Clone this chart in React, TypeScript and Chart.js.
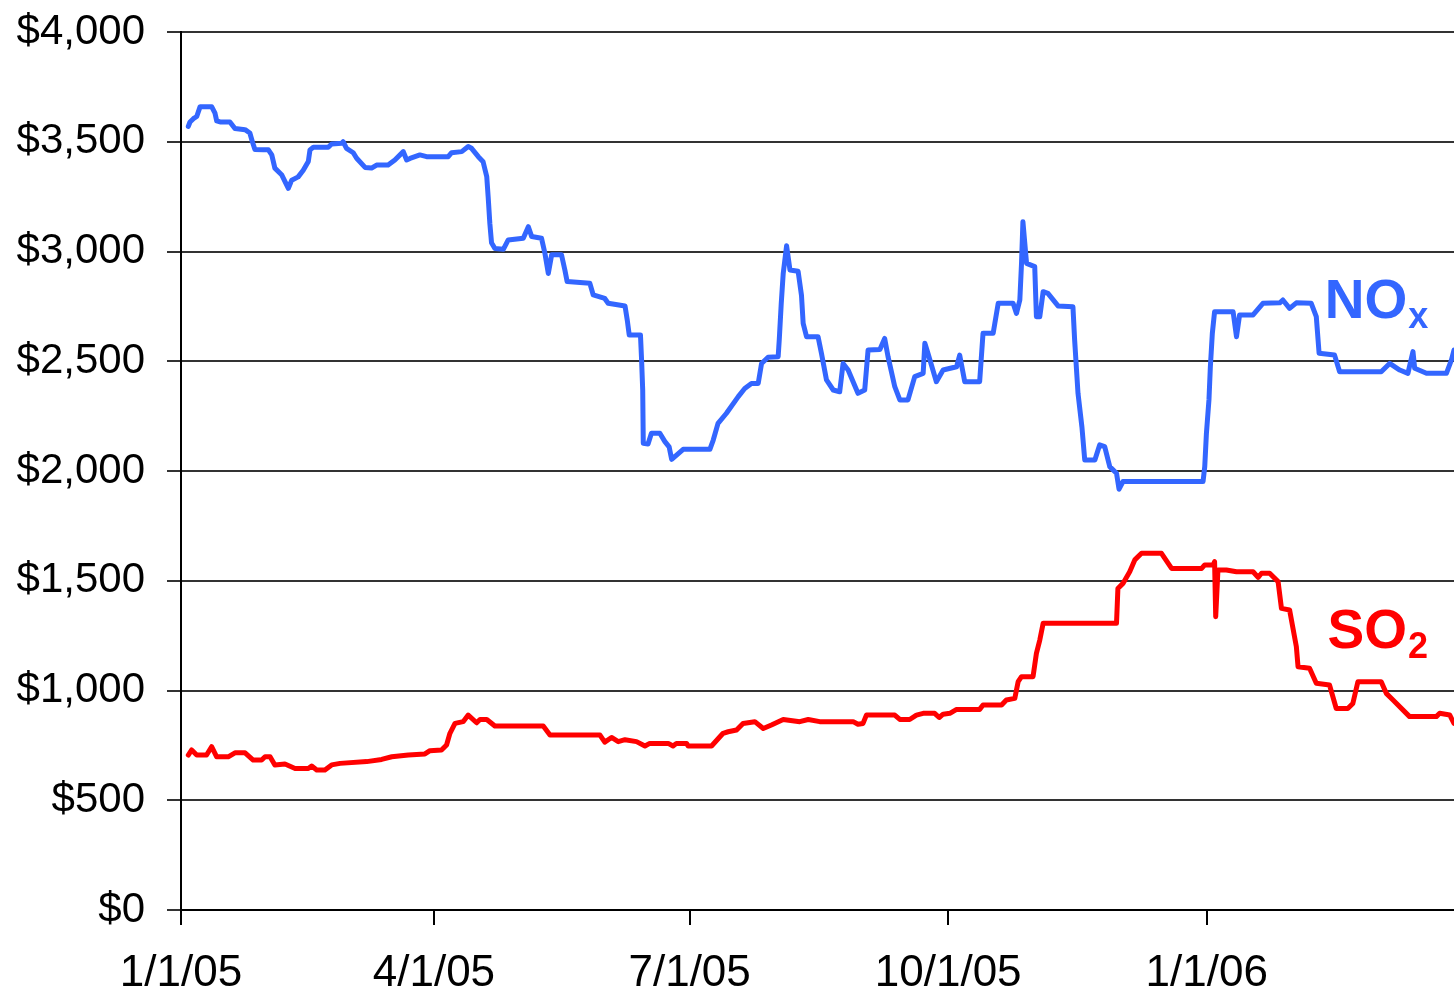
import React, { useEffect, useRef } from "react";
import { Chart, registerables } from "chart.js";

Chart.register(...registerables);

// x values are days since 1/1/05
const tickDays = [0, 90, 181, 273, 365];
const tickLabels = ["1/1/05", "4/1/05", "7/1/05", "10/1/05", "1/1/06"];
const yTickStep = 500;
const yMax = 4000;
const xMax = 453;

const noxDays = [
  2.6, 3.2, 4.4, 5.6, 6.8, 9.1, 10.9, 12.1, 12.7, 13.9, 17.4, 19.2, 22.8, 24.5, 25.4, 26.3,
  29.3, 31.1, 32.3, 33.4, 35.8, 38.2, 39.4, 41.7, 43.5, 45.3, 45.9, 47.1, 52.4, 53.6, 57.2,
  57.7, 58.9, 61.3, 62.5, 65.5, 67.8, 69.6, 73.7, 76.1, 79.1, 80.3, 81.5, 85.0, 87.4, 95.1,
  96.3, 99.9, 102.2, 103.4, 105.8, 107.5, 108.8, 109.3, 109.9, 110.5, 111.7, 114.7, 116.4,
  121.8, 123.6, 124.8, 128.3, 129.5, 130.7, 131.9, 135.4, 136.6, 137.4, 145.5, 146.7, 150.8,
  152.0, 158.0, 158.8, 159.5, 163.5, 163.9, 164.3, 164.5, 166.2, 167.4, 170.4, 172.2, 173.7,
  174.6, 178.7, 188.2, 189.4, 191.1, 194.1, 198.3, 200.6, 203.0, 205.4, 206.6, 208.9, 212.5,
  212.9, 213.6, 214.3, 215.5, 216.7, 219.6, 220.8, 221.4, 222.6, 226.7, 227.9, 229.7, 232.1,
  234.4, 235.6, 237.4, 240.9, 243.3, 244.5, 248.7, 250.4, 251.6, 254.0, 255.8, 258.7, 261.1,
  264.1, 264.7, 265.8, 268.8, 271.2, 276.0, 277.1, 278.9, 284.2, 285.4, 289.0, 290.8, 296.1,
  297.3, 298.5, 299.1, 299.6, 300.9, 303.8, 304.4, 305.6, 306.8, 308.5, 312.1, 317.4, 318.0,
  319.2, 320.6, 321.6, 325.2, 326.9, 328.7, 330.5, 332.9, 333.8, 335.2, 363.7, 364.3, 364.9,
  365.8, 366.3, 367.0, 367.8, 374.4, 375.6, 376.7, 381.5, 385.0, 391.0, 392.1, 394.5, 396.9,
  402.2, 404.0, 405.0, 410.5, 412.3, 427.1, 430.1, 433.7, 436.6, 438.4, 439.0, 443.2, 450.3,
  452.1, 453.0,
];
const noxValues = [
  3570, 3590, 3605, 3615, 3660, 3660, 3660, 3630, 3595, 3590, 3590, 3560, 3555, 3540, 3500, 3465,
  3463, 3463, 3440, 3380, 3350, 3288, 3325, 3340, 3370, 3410, 3463, 3475, 3475, 3490, 3493,
  3500, 3470, 3450, 3425, 3383, 3380, 3394, 3394, 3417, 3455, 3417, 3424, 3440, 3432, 3432,
  3450, 3455, 3478, 3470, 3432, 3409, 3341, 3250, 3128, 3040, 3014, 3010, 3052,
  3060, 3113, 3068, 3060, 2992, 2900, 2985, 2985, 2916, 2863, 2855, 2802, 2786,
  2764, 2752, 2688, 2620, 2620, 2506, 2369, 2126, 2123, 2172, 2172, 2134, 2110,
  2053, 2099, 2099, 2141, 2217, 2263, 2339, 2376, 2399, 2399, 2490, 2518, 2521,
  2600, 2764, 2900, 3026, 2916, 2910, 2800, 2673, 2612, 2612, 2536, 2415, 2369,
  2361, 2490, 2460, 2354, 2369, 2551, 2554, 2604, 2521, 2384, 2324, 2324, 2430,
  2445, 2582, 2536, 2407, 2460, 2475, 2528, 2407, 2407, 2627, 2627, 2764, 2764,
  2718, 2779, 2946, 3136, 2946, 2931, 2703, 2703, 2817, 2809, 2752, 2748, 2597,
  2354, 2200, 2050, 2050, 2119, 2111, 2020, 1990, 1917, 1952, 1952, 2020, 2172,
  2324, 2475, 2627, 2725, 2725, 2612, 2711, 2711, 2764, 2766, 2779, 2741, 2766,
  2764, 2703, 2536, 2528, 2452, 2452, 2490, 2460, 2445, 2544, 2468, 2445, 2445,
  2506, 2551,
];

const so2Days = [
  2.6, 3.8, 5.6, 9.1, 10.9, 12.7, 16.8, 19.2, 22.8, 25.7, 28.7, 29.9, 31.7, 33.4, 37.0, 40.6,
  45.3, 46.5, 48.3, 51.2, 53.6, 56.6, 66.1, 71.4, 75.0, 80.9, 86.8, 88.6, 92.7, 94.5, 95.7,
  97.5, 100.4, 102.2, 105.2, 106.4, 108.8, 111.7, 128.9, 131.3, 149.1, 150.8, 153.2, 155.6,
  158.0, 162.1, 165.1, 166.8, 173.4, 175.1, 176.3, 179.9, 180.5, 188.8, 192.9, 194.7, 197.7,
  200.0, 204.2, 207.2, 210.1, 214.3, 220.2, 223.2, 227.3, 239.2, 240.9, 242.7, 243.9, 254.0,
  255.8, 259.3, 261.7, 264.1, 268.2, 269.8, 271.2, 273.6, 276.0, 284.2, 285.4, 292.0, 293.7,
  296.7, 297.9, 299.1, 303.2, 304.4, 305.6, 306.8, 332.9, 333.4, 335.2, 337.6, 339.4, 341.8,
  348.9, 352.5, 363.2, 364.3, 367.3, 367.8, 368.2, 369.0, 372.0, 375.6, 381.5, 383.3, 384.5,
  387.4, 390.4, 391.6, 394.5, 396.9, 397.5, 401.6, 404.0, 408.7, 411.1, 415.2, 417.0, 418.8,
  427.1, 428.9, 431.3, 437.2, 446.7, 447.9, 451.5, 453.0,
];
const so2Values = [
  706, 729, 706, 706, 744, 698, 698, 716, 716, 683, 683, 698, 698, 661, 665, 645,
  645, 656, 638, 638, 661, 668, 676, 686, 698, 706, 711, 726, 729, 752, 805,
  850, 858, 888, 853, 868, 868, 838, 838, 797, 797, 765, 786, 767,
  776, 767, 747, 759, 759, 747, 759, 759, 747, 747, 805, 812, 820,
  850, 858, 827, 843, 868, 858, 868, 858, 858, 846, 850, 888, 888,
  868, 868, 888, 896, 896, 877, 892, 896, 914, 914, 934, 934, 957,
  964, 1040, 1063, 1063, 1169, 1230, 1306, 1306, 1465, 1488, 1541, 1595, 1625,
  1625, 1556, 1556, 1572, 1572, 1587, 1336, 1549, 1549, 1541, 1541, 1515, 1534,
  1534, 1496, 1374, 1367, 1200, 1108, 1101, 1033, 1025, 918, 918, 941, 1040,
  1040, 987, 957, 881, 881, 896, 888, 850,
];

const noxColor = "#3366FF";
const so2Color = "#FF0000";
const FONT = '"Liberation Sans", Arial, Helvetica, sans-serif';

// series name labels anchored in data coordinates (day, value)
const noxLabel = { main: "NO", sub: "x", day: 407, value: 2697 };
const so2Label = { main: "SO", sub: "2", day: 408, value: 1194 };

const toPoints = (days: number[], values: number[]) =>
  days.map((d, i) => ({ x: d, y: values[i] }));

const seriesLabelPlugin = {
  id: "seriesLabels",
  afterDatasetsDraw(chart: any) {
    const { ctx } = chart;
    const xs = chart.scales.x;
    const ys = chart.scales.y;
    const draw = (lbl: any, color: string) => {
      const px = xs.getPixelForValue(lbl.day);
      const py = ys.getPixelForValue(lbl.value);
      ctx.save();
      ctx.fillStyle = color;
      ctx.textAlign = "left";
      ctx.textBaseline = "alphabetic";
      ctx.font = `bold 55px ${FONT}`;
      ctx.fillText(lbl.main, px, py);
      const w = ctx.measureText(lbl.main).width;
      ctx.font = `bold 36px ${FONT}`;
      ctx.fillText(lbl.sub, px + w + 1, py + 10);
      ctx.restore();
    };
    draw(noxLabel, noxColor);
    draw(so2Label, so2Color);
  },
};

export default function App() {
  const ref = useRef<HTMLCanvasElement | null>(null);

  useEffect(() => {
    if (!ref.current) return;
    const chart = new Chart(ref.current, {
      type: "line",
      data: {
        datasets: [
          {
            label: "NOx",
            data: toPoints(noxDays, noxValues),
            borderColor: noxColor,
            borderWidth: 5,
            pointRadius: 0,
            tension: 0,
            borderJoinStyle: "round",
            borderCapStyle: "round",
          },
          {
            label: "SO2",
            data: toPoints(so2Days, so2Values),
            borderColor: so2Color,
            borderWidth: 5,
            pointRadius: 0,
            tension: 0,
            borderJoinStyle: "round",
            borderCapStyle: "round",
          },
        ],
      },
      options: {
        animation: false,
        responsive: true,
        maintainAspectRatio: false,
        layout: { padding: { top: 32, right: 0, bottom: 0, left: 0 } },
        plugins: {
          legend: { display: false },
          tooltip: { enabled: false },
        },
        scales: {
          x: {
            type: "linear",
            min: 0,
            max: xMax,
            afterBuildTicks: (scale: any) => {
              scale.ticks = tickDays.map((v) => ({ value: v }));
            },
            afterFit: (scale: any) => {
              scale.height = 86;
              scale.paddingRight = 0;
            },
            ticks: {
              autoSkip: false,
              maxRotation: 0,
              padding: 22,
              color: "#000",
              font: { family: FONT, size: 44 },
              callback: (v: any) => {
                const i = tickDays.indexOf(Number(v));
                return i >= 0 ? tickLabels[i] : "";
              },
            },
            grid: {
              drawOnChartArea: false,
              drawTicks: true,
              tickLength: 15,
              color: "#000",
              lineWidth: 2,
            },
            border: { display: true, color: "#000", width: 2 },
          },
          y: {
            min: 0,
            max: yMax,
            afterFit: (scale: any) => {
              scale.width = 181;
              scale.paddingTop = 0;
              scale.paddingBottom = 0;
            },
            ticks: {
              stepSize: yTickStep,
              padding: 22,
              color: "#000",
              font: { family: FONT, size: 42 },
              callback: (v: any) => "$" + Number(v).toLocaleString("en-US"),
            },
            grid: {
              drawTicks: true,
              tickLength: 14,
              color: "#333",
              lineWidth: 2,
            },
            border: { display: true, color: "#000", width: 2 },
          },
        },
      },
      plugins: [seriesLabelPlugin],
    } as any);
    return () => chart.destroy();
  }, []);

  return (
    <div
      style={{
        position: "absolute",
        left: 0,
        top: 0,
        width: 1454,
        height: 996,
        background: "#fff",
      }}
    >
      <canvas ref={ref} />
    </div>
  );
}
